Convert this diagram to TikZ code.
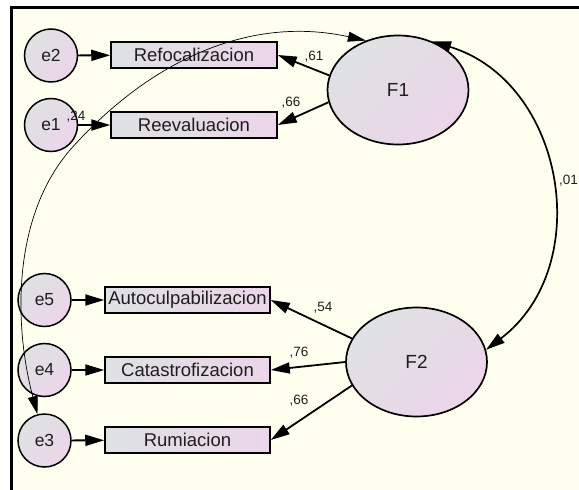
\documentclass[tikz,border=0pt]{standalone}
\usepackage{fontspec}
\setmainfont{Liberation Sans}
\usetikzlibrary{arrows.meta}
\usetikzlibrary{shapes.geometric}

\definecolor{paper}{RGB}{255,255,240}
\definecolor{greyside}{RGB}{222,226,226}
\definecolor{pinkside}{RGB}{236,213,234}
\definecolor{ink}{RGB}{30,30,30}

\begin{document}
\begin{tikzpicture}[ x=1pt, y=-1pt,
	obs/.style={ draw, line width=1.5pt, left color=greyside, right color=pinkside, minimum height=26pt, inner sep=0pt, text=ink, font=\fontsize{18.5}{18.5}\selectfont },
	err/.style={ circle, draw, line width=1.5pt, top color=greyside, bottom color=pinkside, shading angle=45, minimum size=53pt, inner sep=0pt, text=ink, font=\fontsize{17.5}{17.5}\selectfont },
	lat/.style={ ellipse, draw, line width=1.7pt, top color=greyside, bottom color=pinkside, shading angle=45, minimum width=141pt, minimum height=109pt, inner sep=0pt, text=ink, font=\fontsize{19}{19}\selectfont },
	load/.style={ line width=1.8pt, -{Triangle[length=19pt, width=11pt]} },
	coef/.style={ inner sep=0pt, text=ink, font=\fontsize{13.5}{13.5}\selectfont }
]

	\def\topw{166pt}
	\def\botw{165pt}

	\useasboundingbox (0, 0) rectangle (579, 490);
	\fill[ white ] (0, 0) rectangle (579, 490);
	\fill[ paper ] (10, 6) rectangle (579, 490);
	\draw[ line width=3pt ] (10, 7.5) -- (579, 7.5);
	\draw[ line width=3.5pt ] (11.5, 6) -- (11.5, 490);

	\node[ err ] (e2) at (51, 55.5) {e2};
	\node[ err ] (e1) at (51, 125) {e1};
	\node[ err ] (e5) at (44.5, 300) {e5};
	\node[ err ] (e4) at (44.5, 370) {e4};
	\node[ err ] (e3) at (44.5, 440.5) {e3};

	\node[ obs, minimum width=\topw ] (refoc) at (194, 55) {Refocalizacion};
	\node[ obs, minimum width=\topw ] (reeval) at (194, 125) {Reevaluacion};
	\node[ obs, minimum width=\botw ] (autoc) at (187.5, 300) {Autoculpabilizacion};
	\node[ obs, minimum width=\botw ] (catas) at (187.5, 370) {Catastrofizacion};
	\node[ obs, minimum width=\botw ] (rumia) at (187.5, 440) {Rumiacion};

	\node[ lat ] (F1) at (398, 90) {F1};
	\node[ lat ] (F2) at (416.5, 362) {F2};

	\draw[ load ] (e2) -- (refoc);
	\draw[ load ] (e1) -- (reeval);
	\draw[ load ] (e5) -- (autoc);
	\draw[ load ] (e4) -- (catas);
	\draw[ load ] (e3) -- (rumia);

	\draw[ load ] (F1.168) -- (refoc.east);
	\draw[ load ] (F1.190) -- (reeval.east);
	\draw[ load ] (F2.160) -- (autoc.east);
	\draw[ load ] (F2.180) -- (catas.east);
	\draw[ load ] (F2.200) -- (rumia.east);

	\node[ coef ] (l61) at (314, 57) {,61};
	\node[ coef ] (l66a) at (291, 103) {,66};
	\node[ coef ] (l54) at (323, 308) {,54};
	\node[ coef ] (l76) at (299, 353) {,76};
	\node[ coef ] (l66b) at (299, 401) {,66};
	\node[ coef ] (l24) at (76, 117) {,24};

	\draw[ line width=1.7pt, {Triangle[length=19pt, width=11pt]}-{Triangle[length=19pt, width=11pt]} ] (F1.55) .. controls (565, 82) and (596, 266) .. (F2.10);
	\node[ coef, anchor=east ] (l01) at (578, 181) {,01};

	\draw[ line width=0.7pt, {Triangle[length=18pt, width=10pt]}-{Triangle[length=18pt, width=10pt]} ] (e3.105) .. controls (15, 330) and (10, 220) .. (70, 150) .. controls (150, 60) and (250, 15) .. (F1.123);

\end{tikzpicture}
\end{document}
